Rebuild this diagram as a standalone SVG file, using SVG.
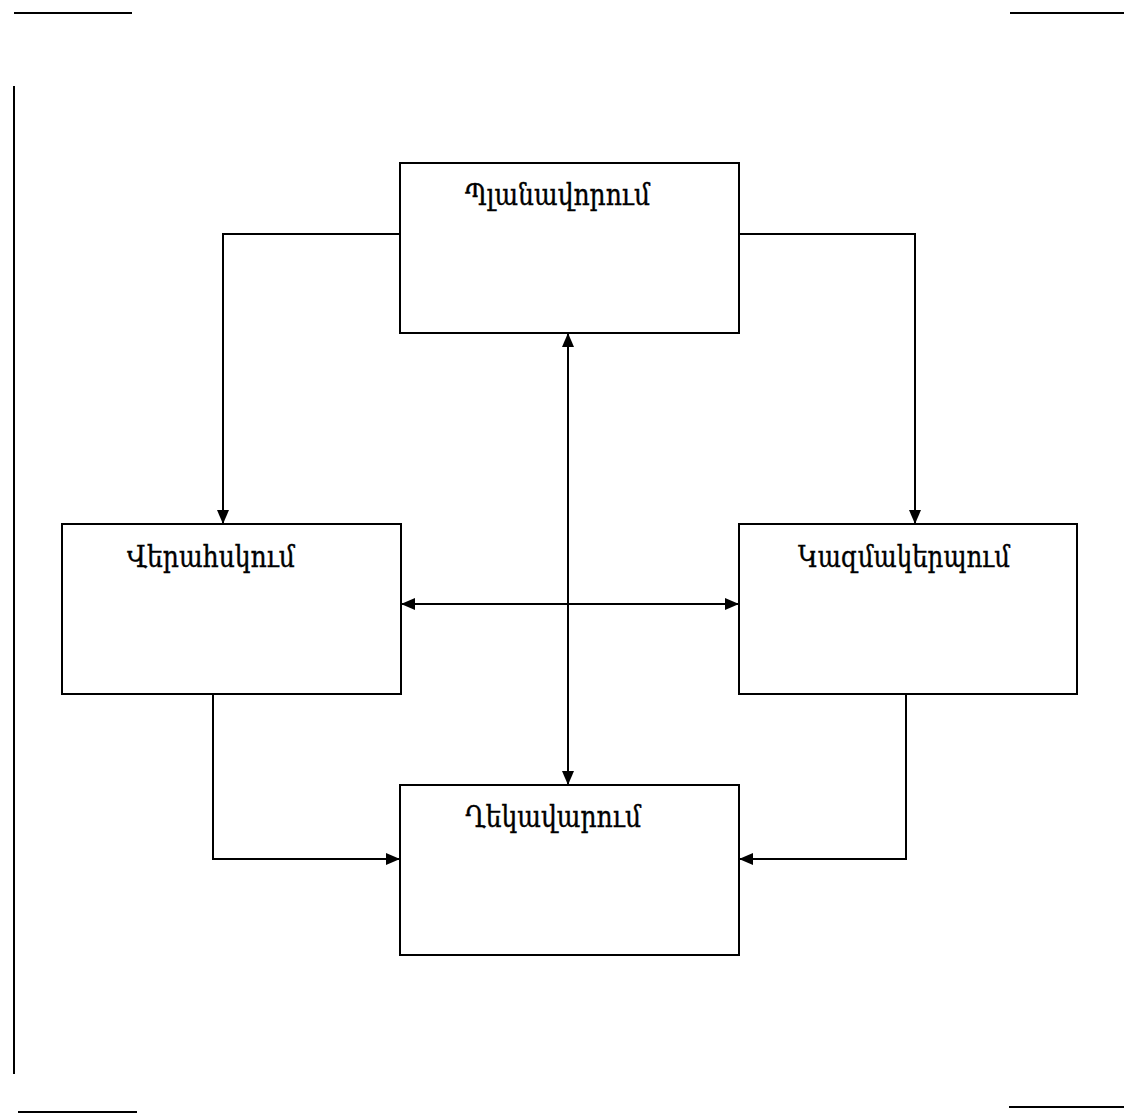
<svg xmlns="http://www.w3.org/2000/svg" width="1124" height="1114" viewBox="0 0 1124 1114">
<defs>
<style>
.box{fill:#fff;stroke:#000;stroke-width:2}
.ln{fill:none;stroke:#000;stroke-width:2}
.lbl{font-family:"DejaVu Serif","Noto Sans",serif;font-size:29px;fill:#000;stroke:#000;stroke-width:0.4}
</style>
<marker id="ah" viewBox="0 0 14 12" refX="14" refY="6" markerWidth="14" markerHeight="12" markerUnits="userSpaceOnUse" orient="auto-start-reverse">
<path d="M0,0 L14,6 L0,12 Z" fill="#000"/>
</marker>
</defs>
<rect width="1124" height="1114" fill="#fff"/>
<g id="page-marks" class="ln">
<line x1="14" y1="13" x2="132" y2="13"/>
<line x1="1010" y1="13" x2="1124" y2="13"/>
<line x1="14" y1="86" x2="14" y2="1074"/>
<line x1="18" y1="1112" x2="137" y2="1112"/>
<line x1="1009" y1="1107" x2="1124" y2="1107"/>
</g>
<g id="connectors" class="ln">
<polyline points="400,234 223,234 223,524" marker-end="url(#ah)"/>
<polyline points="739,234 915,234 915,524" marker-end="url(#ah)"/>
<line x1="568" y1="333" x2="568" y2="785" marker-start="url(#ah)" marker-end="url(#ah)"/>
<line x1="401" y1="604" x2="739" y2="604" marker-start="url(#ah)" marker-end="url(#ah)"/>
<polyline points="213,694 213,859 400,859" marker-end="url(#ah)"/>
<polyline points="906,694 906,859 739,859" marker-end="url(#ah)"/>
</g>
<g id="planavorum">
<rect class="box" x="400" y="163" width="339" height="170"/>
<text class="lbl" x="465" y="205" textLength="185" lengthAdjust="spacingAndGlyphs">Պլանավորում</text>
</g>
<g id="verahskum">
<rect class="box" x="62" y="524" width="339" height="170"/>
<text class="lbl" x="127" y="567" textLength="168" lengthAdjust="spacingAndGlyphs">Վերահսկում</text>
</g>
<g id="kazmakerpum">
<rect class="box" x="739" y="524" width="338" height="170"/>
<text class="lbl" x="798" y="567" textLength="212" lengthAdjust="spacingAndGlyphs">Կազմակերպում</text>
</g>
<g id="xekavarum">
<rect class="box" x="400" y="785" width="339" height="170"/>
<text class="lbl" x="465" y="827" textLength="176" lengthAdjust="spacingAndGlyphs">Ղեկավարում</text>
</g>
</svg>
